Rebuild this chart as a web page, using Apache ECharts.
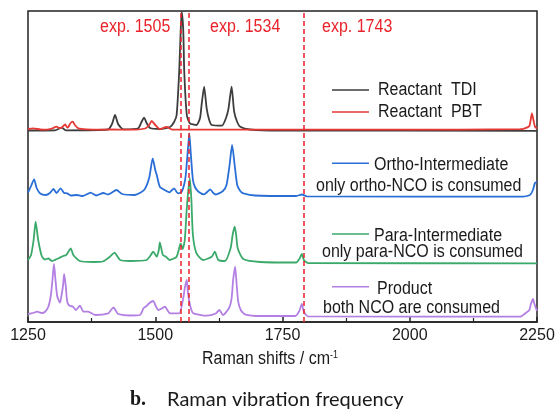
<!DOCTYPE html>
<html>
<head>
<meta charset="utf-8">
<script src="https://cdn.jsdelivr.net/npm/echarts@6/dist/echarts.min.js"></script>
<style>
  html, body { margin: 0; padding: 0; background: #fff; }
  #main { width: 559px; height: 411px; }
</style>
</head>
<body>
<div id="main"></div>
<script>
// x: Raman shift (cm-1), y: stacked intensity (arbitrary units, offsets included)
const xTicks = [1250, 1500, 1750, 2000, 2250];
const calcLines = [1551, 1566, 1791];
const expLabels = ['exp. 1505', 'exp. 1534', 'exp. 1743'];

const tdi = [
  [1250,191.5],[1303,191.7],[1316,194.3],[1325,191.7],[1407,192.5],[1415,198],[1421,207],[1427,198],
  [1437,192.7],[1466,193.5],[1473,200],[1478,204.3],[1483,199],[1490,194],[1509,193],[1529,195],
  [1537,200],[1542,207],[1547,250],[1550,292],[1552,310],[1555,292],[1557,250],[1562,207],
  [1568,198.7],[1581,197],[1588,204],[1591,217],[1596,235.3],[1601,213.7],[1606,202],[1611,197],
  [1631,196.3],[1639,204],[1644,213.7],[1650,235.3],[1655,210.3],[1661,200],[1667,195.3],
  [1686,192.5],[1745,191.5],[2250,191.2]
];
const pbt = [
  [1250,193],[1260,193.7],[1274,192.5],[1287,192.3],[1297,193.5],[1306,195.3],[1311,194],[1316,194.3],
  [1323,197.7],[1327,194.5],[1329,194.7],[1333,198.5],[1338,200.3],[1342,197],[1349,193.7],
  [1365,192.7],[1391,192.3],[1411,192.5],[1450,192.3],[1480,193.5],[1488,197],[1493,201],
  [1500,197],[1509,192.7],[1522,195],[1532,192.7],[1549,192.3],[1981,192.3],[2217,192.8],
  [2226,193.7],[2235,196],[2240,208.7],[2243,202],[2246,195.3],[2250,193.5]
];
const ortho = [
  [1250,129.3],[1256,136],[1262,142.7],[1267,134],[1274,128.5],[1285,127],[1293,129],[1300,133],
  [1306,129],[1314,133.7],[1321,129],[1327,128.7],[1334,126.5],[1346,127],[1358,126],[1373,129.3],
  [1384,126.5],[1398,129],[1407,127.5],[1424,132],[1435,128],[1460,127],[1478,132],[1488,144],
  [1495,163.7],[1500,152],[1503,147],[1509,135.3],[1521,131.3],[1528,129.7],[1533,132],[1537,133.7],
  [1542,130],[1545,128.7],[1552,130.3],[1557,138],[1560,147],[1564,172],[1567,188.7],[1570,167],
  [1574,142],[1578,135],[1585,130.3],[1596,127.7],[1602,130],[1608,132.7],[1614,129],[1619,127.5],
  [1633,131],[1640,137],[1646,157],[1651,177],[1656,157],[1661,137],[1667,131],[1673,128.7],
  [1696,126.5],[1777,126],[1788,127.5],[1798,125.7],[2217,125.3],[2236,127],[2242,132],
  [2246,139],[2250,140.3]
];
const para = [
  [1250,62],[1256,67],[1261,82],[1265,100.3],[1270,82],[1277,66],[1283,62.5],[1290,63.5],[1297,61],
  [1309,63.5],[1319,66],[1325,67],[1329,70],[1334,73.7],[1339,67],[1352,61],[1378,60],[1397,60.5],
  [1411,65.3],[1420,69.3],[1425,66],[1431,62],[1450,61],[1483,62],[1490,66],[1496,70.3],[1503,65.3],
  [1507,72],[1509,79.7],[1515,67],[1521,65.3],[1528,62],[1542,65.3],[1550,78.7],[1554,73],[1558,82],
  [1562,114],[1565,132],[1568,143.7],[1571,122],[1574,87],[1581,68.7],[1594,62],[1611,65.3],
  [1617,70.3],[1624,62],[1637,61],[1648,73.7],[1652,87],[1656,95.3],[1659,87],[1662,73.7],[1673,63],
  [1706,60],[1777,59.5],[1783,63],[1788,68],[1792,62],[1800,59],[2250,58.7]
];
const product = [
  [1250,8],[1260,9],[1268,10.3],[1277,9],[1283,10],[1290,15.3],[1295,27],[1298,42],[1301,58],
  [1304,42],[1307,27],[1310,22],[1313,19.3],[1316,27],[1319,37],[1321,48],[1324,37],[1326,25],
  [1328,18.7],[1333,16],[1338,15.5],[1344,12],[1352,16.3],[1359,10.3],[1368,10.3],[1382,7],
  [1408,8.7],[1413,12],[1418,14.7],[1423,11],[1427,8],[1450,6.5],[1470,7],[1477,13.7],[1483,16],
  [1488,18.7],[1496,21],[1501,16],[1506,12],[1513,13.5],[1519,15.3],[1525,11],[1529,8.7],[1547,8.7],
  [1555,23.7],[1558,34],[1562,42],[1564,30],[1567,20.3],[1571,12],[1575,8.7],[1601,6.3],[1619,8.5],
  [1626,12],[1633,7],[1645,14],[1650,23.7],[1653,42],[1657,55.3],[1660,37],[1663,20.3],[1668,12],
  [1676,7.7],[1706,6],[1775,6],[1783,11],[1788,18],[1792,10],[1800,5.7],[2217,5.3],[2228,9],
  [2235,12],[2238,18],[2242,23],[2245,18],[2248,13.7],[2250,11]
];

const names = ['Reactant  TDI', 'Reactant  PBT', 'Ortho-Intermediate', 'Para-Intermediate', 'Product'];
const subNames = ['', '', 'only ortho-NCO is consumed', 'only para-NCO is consumed', 'both NCO are consumed'];
const colors = ['#3d3d3d', '#e53935', '#2a6fd6', '#3aa96a', '#b37fe3'];
const spectra = [tdi, pbt, ortho, para, product];

const font = 'Liberation Sans, Arial, sans-serif';
const red = '#e8232a';

function txt(s, x, y, fill) {
  return {
    type: 'text', x: x, y: y, scaleY: 1.15, z: 10,
    style: { x: 0, y: 0, text: s, fontSize: 16, fontFamily: font, fill: fill || '#1a1a1a',
      align: 'left', verticalAlign: 'middle' }
  };
}
function seg(x1, x2, y, c) {
  return { type: 'line', z: 10, shape: { x1: x1, y1: y, x2: x2, y2: y }, style: { stroke: c, lineWidth: 1.5 } };
}

const legendY = [[90, 90], [112, 112], [163.3, 165, 186], [234, 236, 252], [286.7, 289.3, 308.3]];
const legendX = [378, 378, 374, 374, 377];
const subX = [0, 0, 316, 322, 323];
const graphic = [];
names.forEach((n, i) => {
  const ly = legendY[i];
  graphic.push(seg(332, 369, ly[0], colors[i]));
  graphic.push(txt(n, legendX[i], ly[1]));
  if (subNames[i]) graphic.push(txt(subNames[i], subX[i], ly[2]));
});
[100, 210, 322].forEach((x, i) => graphic.push(txt(expLabels[i], x, 27, red)));
graphic.push({
  type: 'text', x: 270, y: 359, scaleY: 1.15,
  style: { x: 0, y: 0, text: 'Raman shifts / cm{sup|-1}', fontSize: 16, fontFamily: font, fill: '#1a1a1a',
    align: 'center', verticalAlign: 'middle',
    rich: { sup: { fontSize: 9, fontFamily: font, fill: '#1a1a1a', verticalAlign: 'top', lineHeight: 16 } } }
});
graphic.push({
  type: 'text', x: 130, y: 400,
  style: { text: 'b.', fontSize: 20, fontWeight: 'bold', fontFamily: 'Liberation Serif, serif', fill: '#1a1a1a',
    align: 'left', verticalAlign: 'middle' }
});
graphic.push({
  type: 'text', x: 167, y: 400,
  style: { text: 'Raman vibration frequency', fontSize: 20, fontFamily: 'Lato, sans-serif', fill: '#1a1a1a',
    align: 'left', verticalAlign: 'middle' }
});

const series = spectra.map((d, i) => ({
  name: names[i],
  type: 'line',
  data: d,
  showSymbol: false,
  smooth: 0.2,
  lineStyle: { color: colors[i], width: 1.8 },
  animation: false
}));
series[0].markLine = {
  silent: true,
  symbol: 'none',
  label: { show: false },
  lineStyle: { color: red, width: 1.5, type: [5, 3] },
  data: calcLines.map(v => ({ xAxis: v }))
};

const chart = echarts.init(document.getElementById('main'));
chart.setOption({
  animation: false,
  backgroundColor: '#fff',
  grid: { left: 28, right: 22, top: 11, bottom: 89, show: true, borderColor: '#222', borderWidth: 1.5 },
  xAxis: {
    type: 'value', min: xTicks[0], max: xTicks[xTicks.length - 1], interval: 250,
    axisLine: { lineStyle: { color: '#222', width: 1.5 } },
    axisTick: { inside: true, length: 5, lineStyle: { color: '#222', width: 1.5 } },
    minorTick: { show: true, splitNumber: 2, length: 4, lineStyle: { color: '#222', width: 1.2 } },
    axisLabel: { fontSize: 16, fontFamily: font, color: '#1a1a1a', margin: 6, formatter: v => String(v) },
    splitLine: { show: false }
  },
  yAxis: { type: 'value', min: 0, max: 311, show: false },
  graphic: graphic,
  series: series
});
</script>
</body>
</html>
